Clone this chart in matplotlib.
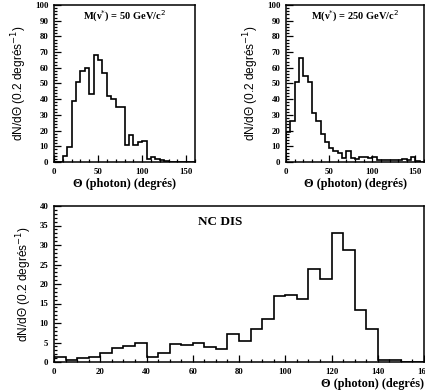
import numpy as np
import matplotlib.pyplot as plt
from matplotlib.ticker import MultipleLocator

# bin edges (degrees), 5 degree bins
edges = np.arange(0, 165, 5)

# M(nu*) = 50 GeV/c^2
m50 = [0, 0, 4, 9.5, 39, 51, 58, 60, 43, 68, 65, 57, 42, 40, 35, 35,
       11, 17.5, 11, 13, 13.5, 2, 3, 2, 1, 0.5, 0, 0, 0, 0, 0, 0]
# M(nu*) = 250 GeV/c^2
m250 = [19, 26, 51, 66, 55, 51, 31, 26, 18, 13, 9, 7, 5.5, 2.5, 7, 2.5,
        2, 3, 3, 2.5, 3, 1.5, 1, 1.5, 1, 1.5, 1, 2, 1, 3, 0.5, 0]
# NC DIS background
ncdis = [1.3, 0.4, 1, 1.3, 2.3, 3.6, 4, 4.9, 1.3, 2.3, 4.5, 4.3, 4.9, 3.9, 3.4, 7.1,
         5.3, 8.4, 11, 16.8, 17.2, 16.1, 23.9, 21.3, 33.2, 28.8, 13.3, 8.4,
         0.5, 0.5, 0, 0]

serif = 'Liberation Serif'
sans = 'Liberation Sans'
xlab = '\u0398 (photon) (degr\u00e9s)'
ylab = 'dN/d\u0398 (0.2 degr\u00e9s$^{-1}$)'

fig = plt.figure(figsize=(4.25, 3.92), dpi=100)

ax1 = fig.add_axes([54/425, 1-162/392, 141/425, 157/392])
ax2 = fig.add_axes([286/425, 1-162/392, 138/425, 157/392])
ax3 = fig.add_axes([54/425, 1-362/392, 370/425, 156/392])


def style(ax, ymax, ymaj, ymin, xmaj, xmin):
    ax.set_xlim(0, 160)
    ax.set_ylim(0, ymax)
    ax.yaxis.set_major_locator(MultipleLocator(ymaj))
    ax.yaxis.set_minor_locator(MultipleLocator(ymin))
    ax.xaxis.set_major_locator(MultipleLocator(xmaj))
    ax.xaxis.set_minor_locator(MultipleLocator(xmin))
    ax.tick_params(which='both', direction='in', top=False, right=False,
                   width=0.9, pad=4)
    ax.tick_params(which='major', length=5)
    ax.tick_params(which='minor', length=2.5)
    for lab in ax.get_xticklabels() + ax.get_yticklabels():
        lab.set_fontfamily(serif)
        lab.set_fontweight('bold')
        lab.set_fontsize(6.3)
    for sp in ax.spines.values():
        sp.set_linewidth(1.1)


for ax, vals, title in [(ax1, m50, 'M(\u03bd$^{*}$) = 50 GeV/c$^{2}$'),
                        (ax2, m250, 'M(\u03bd$^{*}$) = 250 GeV/c$^{2}$')]:
    ax.stairs(vals, edges, color='black', lw=1.2)
    style(ax, 100, 10, 2, 50, 10)
    ax.text(0.5, 0.905, title, transform=ax.transAxes, ha='center',
            fontfamily=serif, fontweight='bold', fontsize=7.5)
    ax.set_xlabel(xlab, fontfamily=serif, fontweight='bold', fontsize=8.8, labelpad=2)
    ax.set_ylabel(ylab, fontfamily=sans, fontsize=8.6, labelpad=4)

ax3.stairs(ncdis, edges, color='black', lw=1.2)
style(ax3, 40, 5, 1, 20, 5)
ax3.text(0.39, 0.88, 'NC DIS', transform=ax3.transAxes, ha='left',
         fontfamily=serif, fontweight='bold', fontsize=9.5)
ax3.set_xlabel(xlab, fontfamily=serif, fontweight='bold', fontsize=8.8)
ax3.xaxis.set_label_coords(1.0, -0.1)
ax3.xaxis.label.set_ha('right')
ax3.set_ylabel(ylab, fontfamily=sans, fontsize=8.6, labelpad=4)

fig.savefig('out.png', dpi=100)
